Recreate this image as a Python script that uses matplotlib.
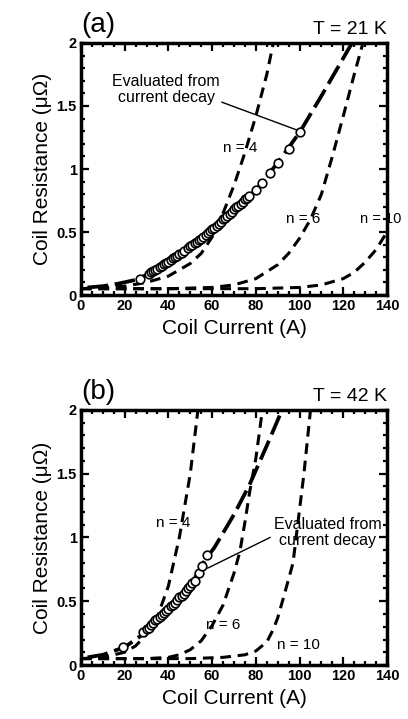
import matplotlib.pyplot as plt
from matplotlib.ticker import MultipleLocator

plt.rcParams['font.family'] = ['Liberation Sans', 'DejaVu Sans']

# ---- panel (a), T = 21 K ----
a_n4_I = [0, 20, 30, 40, 50, 55, 60, 65, 70, 75, 80, 85, 88]
a_n4_R = [0.05, 0.07, 0.1, 0.15, 0.25, 0.33, 0.46, 0.65, 0.87, 1.13, 1.42, 1.75, 2.0]
a_n6_I = [0, 40, 60, 70, 80, 90, 95, 100, 105, 110, 115, 120, 125, 129]
a_n6_R = [0.05, 0.05, 0.06, 0.08, 0.13, 0.24, 0.33, 0.45, 0.6, 0.8, 1.1, 1.42, 1.75, 2.0]
a_n10_I = [0, 80, 100, 110, 120, 125, 130, 135, 140]
a_n10_R = [0.05, 0.05, 0.06, 0.08, 0.13, 0.18, 0.26, 0.36, 0.5]
a_fit_I = [3, 10, 17, 25, 30, 40, 50, 60, 70, 80, 90, 100, 110, 118, 124]
a_fit_R = [0.06, 0.07, 0.09, 0.12, 0.16, 0.26, 0.38, 0.52, 0.68, 0.83, 1.05, 1.29, 1.58, 1.82, 2.0]
a_pts_I = [27, 31, 32, 33, 34, 35, 36, 37, 38, 39, 40, 41, 42, 43, 44, 45, 46, 47,
           49, 50, 51, 52, 53, 54, 55, 56, 57, 58, 59, 60, 61, 62, 63, 64, 65, 66,
           67, 68, 69, 70, 71, 72, 73, 74, 75, 76, 77, 80, 83, 86.5, 90, 95, 100]
a_pts_R = [0.13, 0.17, 0.18, 0.19, 0.2, 0.21, 0.22, 0.23, 0.245, 0.255, 0.265, 0.275,
           0.29, 0.3, 0.31, 0.325, 0.335, 0.35, 0.37, 0.385, 0.395, 0.41, 0.42, 0.435,
           0.445, 0.46, 0.475, 0.49, 0.505, 0.52, 0.535, 0.55, 0.565, 0.58, 0.6, 0.615,
           0.63, 0.645, 0.66, 0.68, 0.695, 0.71, 0.725, 0.74, 0.76, 0.77, 0.785, 0.83,
           0.89, 0.97, 1.05, 1.16, 1.29]

# ---- panel (b), T = 42 K ----
b_n4_I = [0, 10, 20, 25, 30, 35, 40, 45, 50, 53.5]
b_n4_R = [0.05, 0.06, 0.1, 0.15, 0.24, 0.38, 0.62, 1.0, 1.5, 2.0]
b_n6_I = [0, 30, 40, 45, 50, 55, 60, 65, 70, 72.7, 75, 77.3, 80, 83]
b_n6_R = [0.05, 0.05, 0.06, 0.08, 0.12, 0.19, 0.31, 0.47, 0.72, 0.89, 1.12, 1.37, 1.62, 2.0]
b_n10_I = [0, 50, 65, 75, 80, 85, 88, 90, 93, 97, 100, 102, 105]
b_n10_R = [0.05, 0.05, 0.06, 0.08, 0.11, 0.18, 0.28, 0.37, 0.55, 0.8, 1.22, 1.5, 2.0]
b_fit_I = [3, 10, 20, 30, 40, 50, 57, 61, 70, 77, 85, 92]
b_fit_R = [0.06, 0.08, 0.14, 0.26, 0.42, 0.62, 0.83, 0.92, 1.18, 1.41, 1.72, 2.0]
b_pts_I = [19, 28.5, 30, 31, 32, 33, 34, 35, 36, 37, 38, 39, 40, 41, 42, 43, 44, 45,
           46, 47, 48, 49, 50, 51, 52, 54, 55.5, 57.5]
b_pts_R = [0.14, 0.26, 0.28, 0.29, 0.31, 0.33, 0.35, 0.36, 0.38, 0.39, 0.41, 0.42,
           0.44, 0.46, 0.47, 0.49, 0.51, 0.53, 0.54, 0.56, 0.58, 0.6, 0.62, 0.64,
           0.66, 0.72, 0.78, 0.86]


def draw_panel(ax, n4, n6, n10, fit, pts, tag, temp):
    for I, R in (n4, n6, n10):
        ax.plot(I, R, color='black', lw=2.2, dashes=(3.5, 2.2))
    ax.plot(fit[0], fit[1], color='black', lw=2.7, dashes=(5.5, 1.8))
    ax.plot(pts[0], pts[1], 'o', ms=6.2, mfc='white', mec='black', mew=1.2)
    ax.set_xlim(0, 140)
    ax.set_ylim(0, 2)
    ax.xaxis.set_major_locator(MultipleLocator(20))
    ax.xaxis.set_minor_locator(MultipleLocator(5))
    ax.yaxis.set_minor_locator(MultipleLocator(0.1))
    ax.set_yticks([0, 0.5, 1, 1.5, 2])
    ax.set_yticklabels(['0', '0.5', '1', '1.5', '2'])
    ax.tick_params(which='both', direction='in', top=True, right=True, width=1.6)
    ax.tick_params(which='major', length=6, labelsize=10.5, pad=3)
    ax.tick_params(which='minor', length=3)
    for lab in ax.get_xticklabels() + ax.get_yticklabels():
        lab.set_fontweight('bold')
    for s in ax.spines.values():
        s.set_linewidth(2.5)
    ax.set_xlabel('Coil Current (A)', fontsize=15, labelpad=4)
    ax.set_ylabel('Coil Resistance (μΩ)', fontsize=15, labelpad=3)
    ax.text(0.0, 1.02, tag, transform=ax.transAxes, fontsize=20, ha='left', va='bottom')
    ax.text(1.0, 1.02, temp, transform=ax.transAxes, fontsize=14, ha='right', va='bottom')


fig = plt.figure(figsize=(4.08, 7.19), dpi=100)
ax1 = fig.add_axes([0.1985, 0.5897, 0.75, 0.3505])
ax2 = fig.add_axes([0.1985, 0.0751, 0.75, 0.3547])

draw_panel(ax1, (a_n4_I, a_n4_R), (a_n6_I, a_n6_R), (a_n10_I, a_n10_R),
           (a_fit_I, a_fit_R), (a_pts_I, a_pts_R), '(a)', 'T = 21 K')
ax1.text(39, 1.63, 'Evaluated from\ncurrent decay', fontsize=11.5, ha='center', va='center',
         linespacing=1.1)
ax1.plot([64.5, 98.7], [1.53, 1.31], color='black', lw=1)
ax1.text(72.7, 1.17, 'n = 4', fontsize=11, ha='center', va='center')
ax1.text(101.6, 0.6, 'n = 6', fontsize=11, ha='center', va='center')
ax1.text(146.5, 0.6, 'n = 10', fontsize=10.5, ha='right', va='center', clip_on=False)

draw_panel(ax2, (b_n4_I, b_n4_R), (b_n6_I, b_n6_R), (b_n10_I, b_n10_R),
           (b_fit_I, b_fit_R), (b_pts_I, b_pts_R), '(b)', 'T = 42 K')
ax2.text(113, 1.04, 'Evaluated from\ncurrent decay', fontsize=11.5, ha='center', va='center',
         linespacing=1.1)
ax2.plot([86.5, 58], [1.0, 0.76], color='black', lw=1)
ax2.text(42, 1.11, 'n = 4', fontsize=11, ha='center', va='center')
ax2.text(65, 0.31, 'n = 6', fontsize=11, ha='center', va='center')
ax2.text(99.5, 0.16, 'n = 10', fontsize=11, ha='center', va='center')

fig.savefig('out.png', dpi=100)
